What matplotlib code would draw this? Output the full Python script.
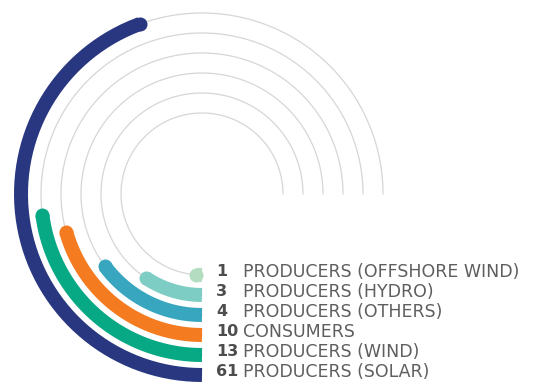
import matplotlib.pyplot as plt
import numpy as np

# counts shown in the labels, inner ring first
counts = [1, 3, 4, 10, 13, 61]
labels = ['PRODUCERS (OFFSHORE WIND)', 'PRODUCERS (HYDRO)', 'PRODUCERS (OTHERS)',
          'CONSUMERS', 'PRODUCERS (WIND)', 'PRODUCERS (SOLAR)']
# arc length of each bar in degrees (clockwise from 6 o'clock)
arc_deg = [4, 34, 53.5, 74.5, 82.5, 160]
colors = ['#b3dcc0', '#7ecdc4', '#38a6bf', '#f47b20', '#07a884', '#283780']

W, H = 538, 387
CX, CY = 202, 194       # centre of the rings in pixels
RMAX = 190
radii = [81, 101, 121, 141, 161, 181]
TRACK_DEG = 270

fig = plt.figure(figsize=(W / 100, H / 100), dpi=100)

ax = fig.add_axes([(CX - RMAX) / W, (H - CY - RMAX) / H, 2 * RMAX / W, 2 * RMAX / H],
                  projection='polar')
ax.set_theta_zero_location('S')
ax.set_theta_direction(-1)
ax.set_rlim(0, RMAX)
ax.axis('off')

bar_lw = 14 * 72 / 100   # 14 px thick

for r, deg, c in zip(radii, arc_deg, colors):
    t = np.radians(np.linspace(0, TRACK_DEG, 400))
    ax.plot(t, np.full_like(t, r), color='#d6d6d6', lw=0.9, zorder=1)
    tb = np.radians(np.linspace(0, deg, 200))
    ax.plot(tb, np.full_like(tb, r), color=c, lw=bar_lw, solid_capstyle='butt', zorder=2)
    # rounded cap at the far end
    ax.plot([np.radians(deg)], [r], 'o', color=c, ms=bar_lw, mew=0, zorder=2)

# text overlay in pixel coordinates
tx = fig.add_axes([0, 0, 1, 1])
tx.set_xlim(0, W)
tx.set_ylim(H, 0)
tx.axis('off')
tx.patch.set_alpha(0)

for r, n, lab in zip(radii, counts, labels):
    y = CY + r - 3
    tx.text(216, y, str(n), fontsize=11.5, fontweight='bold', color='#4d4d4d',
            va='center', ha='left', family='DejaVu Sans')
    tx.text(243, y, lab, fontsize=12.5, color='#5e5e5e', va='center', ha='left',
            family='DejaVu Sans')

fig.savefig('out.png', dpi=100)
